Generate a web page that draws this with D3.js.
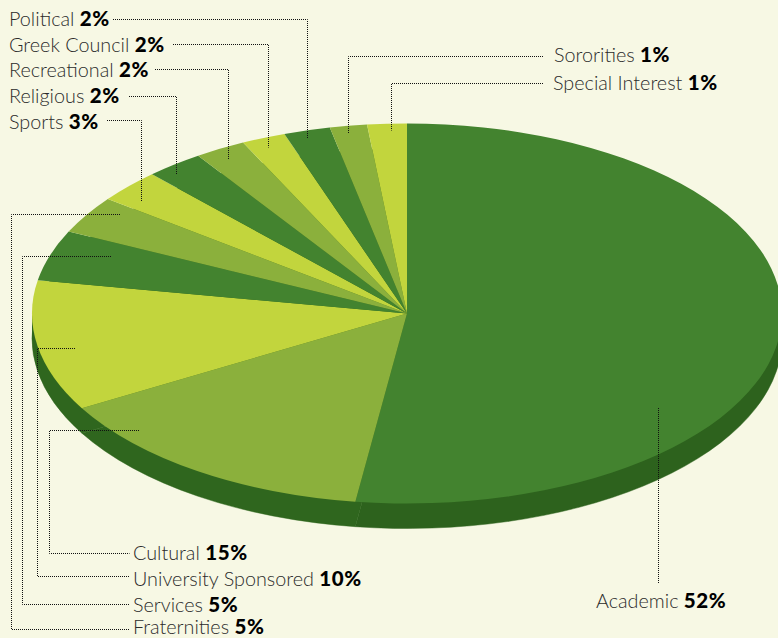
<!DOCTYPE html>
<html>
<head>
<meta charset="utf-8">
<script src="https://cdn.jsdelivr.net/npm/d3@7/dist/d3.min.js"></script>
<style>
html,body{margin:0;padding:0;background:#f7f8e4;overflow:hidden;}
svg{display:block;}
text{font-family:Lato,sans-serif;font-size:19.8px;font-weight:300;fill:#2b2b2b;}
tspan.v{font-weight:900;fill:#000;font-size:20.5px;letter-spacing:0.6px;}
</style>
</head>
<body>
<div id="chart"></div>
<script>
const categories=["Academic","Cultural","University Sponsored","Services","Fraternities","Sports","Religious","Recreational","Greek Council","Political","Sororities","Special Interest"];
const percentLabels=[52,15,10,5,5,3,2,2,2,2,1,1];
// wedge sizes as actually drawn in the picture (they differ slightly from the printed labels)
const drawnShares=[52.2,14.5,11.1,4.3,3.2,2.8,2.5,2.2,1.9,2.0,1.6,1.7];

const W=778,H=638,cx=407,cy=313.5,rx=375,ry=190,depth=25;
const topColors=["#43832f","#8bb03c","#c2d53d"];
const sideColors=["#2d621d","#2f661e","#2f661e"];
const colorIdx=i=>i===0?0:(i%3);

// label layout: x, baseline, leader polyline
const labelLayout=[
 {x:596,y:608,line:[[658,407],[658,583]]},
 {x:133,y:560,line:[[139,430],[49,430],[49,553],[129,553]]},
 {x:133,y:586,line:[[75,348],[37,348],[37,576],[129,576]]},
 {x:133,y:612,line:[[111,256],[22,256],[22,604],[129,604]]},
 {x:133,y:634,line:[[120,214],[11,214],[11,629],[129,629]]},
 {x:9,y:129,line:[[106,120],[141,120],[141,201]]},
 {x:9,y:103,line:[[128,96],[176,96],[176,174]]},
 {x:9,y:77,line:[[154,69],[228,69],[228,159]]},
 {x:9,y:52,line:[[172,44],[268,44],[268,147]]},
 {x:9,y:26,line:[[112,19],[307,19],[307,138]]},
 {x:554,y:62,line:[[543,56],[348,56],[348,133]]},
 {x:553,y:90,line:[[543,83],[391,83],[391,130]]}
];

const svg=d3.select("#chart").append("svg").attr("width",W).attr("height",H);
const pieData=d3.pie().sort(null).value(d=>d)(drawnShares);
const arc=d3.arc().innerRadius(0).outerRadius(rx);

svg.append("rect").attr("x",cx-rx).attr("y",cy).attr("width",2*rx).attr("height",depth).attr("fill",sideColors[1]);
svg.append("g").attr("transform",`translate(${cx},${cy+depth}) scale(1,${ry/rx})`)
  .selectAll("path").data(pieData).join("path")
  .attr("d",arc).attr("fill",(d,i)=>sideColors[colorIdx(i)])
  .attr("stroke",(d,i)=>sideColors[colorIdx(i)]).attr("stroke-width",0.6);
svg.append("g").attr("transform",`translate(${cx},${cy}) scale(1,${ry/rx})`)
  .selectAll("path").data(pieData).join("path")
  .attr("d",arc).attr("fill",(d,i)=>topColors[colorIdx(i)]);

const line=d3.line();
svg.append("g").selectAll("path").data(labelLayout).join("path")
  .attr("d",d=>line(d.line)).attr("fill","none").attr("stroke","#111")
  .attr("stroke-width",1).attr("stroke-dasharray","1 1").attr("stroke-dashoffset",-0.5)
  .attr("transform","translate(0.5,0.5)");

const t=svg.append("g").selectAll("text").data(categories).join("text")
  .attr("x",(d,i)=>labelLayout[i].x).attr("y",(d,i)=>labelLayout[i].y);
t.append("tspan").text(d=>d+" ");
t.append("tspan").attr("class","v").text((d,i)=>percentLabels[i]+"%");
</script>
</body>
</html>
